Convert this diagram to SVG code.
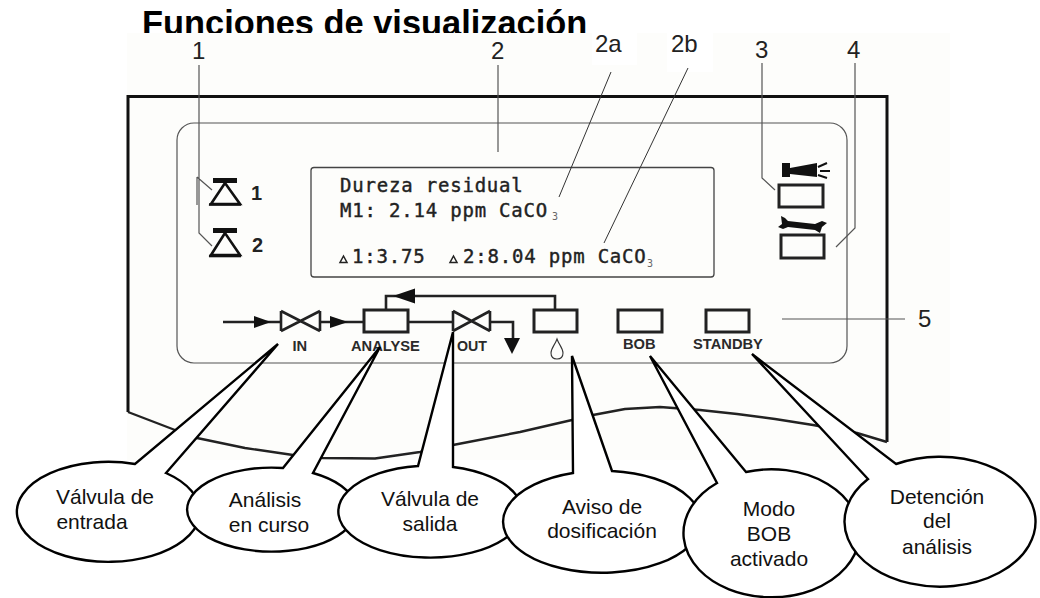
<svg xmlns="http://www.w3.org/2000/svg" width="1040" height="598" viewBox="0 0 1040 598">
<style>
text{font-family:"Liberation Sans",Arial,sans-serif}
.num{font-size:24px;fill:#222}
.lead{fill:none;stroke:#333;stroke-width:1}
.thin{fill:none;stroke:#555;stroke-width:1.2}
.box{fill:none;stroke:#222;stroke-width:3}
.pipe{fill:none;stroke:#222;stroke-width:2.6}
.head{fill:#111}
.lcd{font-family:"DejaVu Sans Mono","Liberation Mono",monospace;font-size:19px;fill:#222;letter-spacing:.8px;stroke:#222;stroke-width:.4}
.sub{font-family:"DejaVu Sans Mono",monospace;font-size:10px;fill:#666}
.tri{fill:none;stroke:#222;stroke-width:1.5}
.lab{font-size:14.7px;font-weight:bold;fill:#2a2a2a}
.lamp{font-size:20px;font-weight:bold;fill:#222}
.bubble{fill:#fff;stroke:#000;stroke-width:2.4;stroke-linejoin:miter}
.bt{font-size:21px;fill:#111;text-anchor:middle}
</style>
<rect width="1040" height="598" fill="#fff"/>
<text id="title" x="142" y="34.5" font-size="34.4" font-weight="bold" fill="#000">Funciones de visualización</text>
<g id="device">
<rect x="127" y="33" width="823" height="427" fill="#fdfdfb"/>
<rect x="592" y="33" width="45" height="32" fill="#fff"/>
<rect x="667" y="33" width="46" height="39" fill="#fff"/>
<path d="M128 412V96.500H887V442" fill="none" stroke="#111" stroke-width="3"/>
<polyline points="128,412 175,430 197,438 245,448 293,455 323,458 375,458.500 420,452 453,445 520,432 572,420 593,415 625,409 660,407 700,410 737,414 775,419 813,425 857,433 887,442" fill="none" stroke="#222" stroke-width="2.4" stroke-linejoin="round"/>
<rect x="177" y="123" width="670" height="240" rx="17" fill="none" stroke="#555" stroke-width="1.2"/>
<rect x="311" y="167.500" width="403" height="109.500" rx="3" fill="none" stroke="#444" stroke-width="1.3"/>
</g>
<g id="lcd-text">
<text class="lcd" x="340" y="192">Dureza residual</text>
<text class="lcd" x="340" y="217">M1: 2.14 ppm CaCO</text>
<text class="sub" x="552" y="220">3</text>
<text class="lcd" x="352" y="263">1:3.75</text>
<path class="tri" d="M343.500 256L347 262.500H340Z"/>
<path class="tri" d="M453.500 256L457 262.500H450Z"/>
<text class="lcd" x="463" y="263">2:8.04 ppm CaCO</text>
<text class="sub" x="647" y="267">3</text>
</g>
<g id="lamps">
<rect x="213" y="178" width="24" height="5" fill="#111"/>
<path d="M225 183L211 204H240Z" fill="none" stroke="#111" stroke-width="2.6"/>
<path d="M209 204.500H241" stroke="#111" stroke-width="2.6"/>
<text class="lamp" x="251" y="200">1</text>
<rect x="213" y="228" width="24" height="5" fill="#111"/>
<path d="M225 233L211 255H240Z" fill="none" stroke="#111" stroke-width="2.6"/>
<path d="M209 256H241" stroke="#111" stroke-width="2.6"/>
<text class="lamp" x="252" y="252">2</text>
</g>
<g id="alarm-icons">
<path d="M782 163H790V168L817 163V177L790 174V177H782Z" fill="#111"/>
<path d="M818 167L827 163M820 171H830M818 175L827 178" stroke="#111" stroke-width="2" fill="none"/>
<rect class="box" x="779" y="185" width="44" height="22"/>
<path d="M781 216L785 218L788 221L815 224L822 221L827 223L822 227L820 233L815 230L788 227L783 229L778 227L782 224Z" fill="#111"/>
<rect class="box" x="781" y="235" width="43" height="23"/>
</g>
<g id="flow-panel">
<path class="pipe" d="M223 322H281M320 322H364M408 322H453M490 322H513V342M555 310V296H386V310"/>
<path class="head" d="M254 316L271 322L254 328ZM330 316L348 322L330 328ZM393 296L415 288.500V303.500ZM504 338H520L512 354Z"/>
<path class="pipe" d="M281 311V331M320 311V331M281 311L320 331M281 331L320 311"/>
<path class="pipe" d="M453 311V331M490 311V331M453 311L490 331M453 331L490 311"/>
<rect class="box" x="364" y="310" width="44" height="22"/>
<rect class="box" x="534" y="310" width="43" height="22"/>
<rect class="box" x="618" y="310" width="44" height="22"/>
<rect class="box" x="706" y="310" width="43" height="22"/>
<text class="lab" x="292.500" y="351">IN</text>
<text class="lab" x="351" y="351">ANALYSE</text>
<text class="lab" x="457" y="351" textLength="30" lengthAdjust="spacingAndGlyphs">OUT</text>
<text class="lab" x="623" y="349">BOB</text>
<text class="lab" x="693" y="349">STANDBY</text>
<path d="M557 339C555 345 551 348 551 353C551 357 553 359 557 359C561 359 563 357 563 353C563 348 559 345 557 339Z" fill="none" stroke="#333" stroke-width="1.100"/>
</g>
<g id="connectors">
<path class="thin" d="M199 65V233L212 246M197 177V205M197 177L212 190"/>
<path class="thin" d="M498 65V152"/>
<path class="lead" d="M611 72L559 197M688 68L604 243"/>
<path class="thin" d="M762 63V178L775 190M855 63V228L836 247M782 319H905"/>
</g>
<g id="numbers">
<text class="num" x="192" y="59">1</text>
<text class="num" x="491" y="59">2</text>
<text class="num" x="595" y="52">2a</text>
<text class="num" x="671" y="52">2b</text>
<text class="num" x="755" y="58">3</text>
<text class="num" x="847" y="58">4</text>
<text class="num" x="918" y="327">5</text>
</g>
<g id="callout-entrada">
<path class="bubble" d="M135 464A91.500 50 0 1 0 166 473L278 344Z"/>
<text class="bt" x="105" y="504">Válvula de</text><text class="bt" x="92" y="529">entrada</text>
</g>
<g id="callout-analisis">
<path class="bubble" d="M283 468A84.500 42 0 1 0 313 473L380 347Z"/>
<text class="bt" x="265" y="507">Análisis</text><text class="bt" x="269" y="532">en curso</text>
</g>
<g id="callout-salida">
<path class="bubble" d="M418 466A92 46 0 1 0 453 467V332Z"/>
<text class="bt" x="430" y="506">Válvula de</text><text class="bt" x="430" y="531">salida</text>
</g>
<g id="callout-dosificacion">
<path class="bubble" d="M573 473A99 51 0 1 0 612 471L572 356Z"/>
<text class="bt" x="602" y="514">Aviso de</text><text class="bt" x="602" y="538">dosificación</text>
</g>
<g id="callout-bob">
<path class="bubble" d="M717 483A88 64 0 1 0 746 472L650 356Z"/>
<text class="bt" x="769" y="516">Modo</text><text class="bt" x="769" y="541">BOB</text><text class="bt" x="769" y="566">activado</text>
</g>
<g id="callout-standby">
<path class="bubble" d="M868 479A95.500 65 0 1 0 896 464L752 354Z"/>
<text class="bt" x="937" y="504">Detención</text><text class="bt" x="937" y="528">del</text><text class="bt" x="937" y="554">análisis</text>
</g>
</svg>
